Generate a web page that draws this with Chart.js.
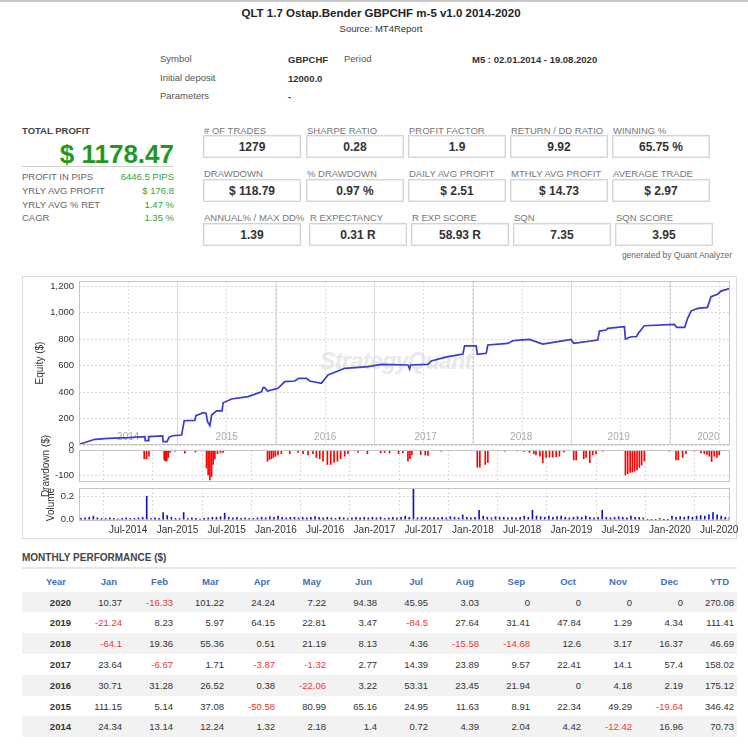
<!DOCTYPE html>
<html>
<head>
<meta charset="utf-8">
<title>QLT 1.7 Ostap.Bender GBPCHF m-5 v1.0 2014-2020</title>
<script src="https://cdn.jsdelivr.net/npm/chart.js@4.4.0/dist/chart.umd.min.js"></script>
<style>
  body { margin: 0; background: #fff; font-family: "Liberation Sans", Arial, sans-serif; color: #333; }
  #page { position: relative; width: 748px; height: 750px; overflow: hidden; }
  .t { position: absolute; white-space: nowrap; line-height: 12px; }
  .lbl { color: #666; font-size: 9.5px; }
  .box { position: absolute; width: 96px; height: 21px; border: 1px solid #d4d4d4; box-shadow: inset 0 0 0 1px #eee;
         text-align: center; font-weight: bold; font-size: 12px; line-height: 22px; color: #333; }
  .green { color: #33a533; font-size: 9.5px; }
  #panel { position: absolute; left: 22px; top: 276px; width: 713px; height: 261px; border: 1px solid #dcdcdc; }
  canvas { position: absolute; }
  #monthly { position: absolute; left: 22px; top: 571px; width: 715px; border-collapse: collapse; table-layout: fixed; font-size: 9.5px; }
  #monthly th { color: #3e72b8; text-align: right; padding: 0 8px 0 0; height: 20.7px; font-weight: bold; }
  #monthly td { text-align: right; padding: 0 3px 0 0; height: 20.8px; color: #333; }
  #monthly td.yr { font-weight: bold; }
  #monthly td.neg { color: #f03535; }
  #monthly tr.band td { background: #f2f2f2; }
</style>
</head>
<body>
<div id="page">
  <div style="position:absolute;left:0;top:0;width:748px;height:2px;background:#c8c8c8"></div>
  <div class="t" style="left:0;width:762px;text-align:center;top:7px;font-weight:bold;font-size:11.5px;color:#222">QLT 1.7 Ostap.Bender GBPCHF m-5 v1.0 2014-2020</div>
  <div class="t" style="left:0;width:762px;text-align:center;top:23px;font-size:9.5px;color:#333">Source: MT4Report</div>

  <div class="t" style="left:160px;top:53px;font-size:9.5px;color:#555">Symbol</div>
  <div class="t" style="left:288px;top:54px;font-size:9.5px;font-weight:bold">GBPCHF</div>
  <div class="t" style="left:344px;top:53px;font-size:9.5px;color:#555">Period</div>
  <div class="t" style="left:472px;top:54px;font-size:9.5px;font-weight:bold">M5 : 02.01.2014 - 19.08.2020</div>
  <div class="t" style="left:160px;top:72px;font-size:9.5px;color:#555">Initial deposit</div>
  <div class="t" style="left:288px;top:73px;font-size:9.5px;font-weight:bold">12000.0</div>
  <div class="t" style="left:160px;top:90px;font-size:9.5px;color:#555">Parameters</div>
  <div class="t" style="left:288px;top:91px;font-size:9.5px;font-weight:bold">-</div>

  <div class="t" style="left:22px;top:125px;font-size:9.5px;font-weight:bold;color:#444">TOTAL PROFIT</div>
  <div class="t" style="right:574px;top:141px;font-size:26px;line-height:26px;font-weight:bold;color:#1f9a1f">$ 1178.47</div>
  <div style="position:absolute;left:22px;top:166px;width:152px;height:1px;background:#cfcfcf"></div>
  <div class="t lbl" style="left:22px;top:171px">PROFIT IN PIPS</div>
  <div class="t green" style="right:574px;top:171px">6446.5 PIPS</div>
  <div class="t lbl" style="left:22px;top:185px">YRLY AVG PROFIT</div>
  <div class="t green" style="right:574px;top:185px">$ 176.8</div>
  <div class="t lbl" style="left:22px;top:199px">YRLY AVG % RET</div>
  <div class="t green" style="right:574px;top:199px">1.47 %</div>
  <div class="t lbl" style="left:22px;top:212px">CAGR</div>
  <div class="t green" style="right:574px;top:212px">1.35 %</div>

  <div id="stats"></div>
  <div class="t" style="right:16px;top:249px;font-size:8.5px;color:#666">generated by Quant Analyzer</div>

  <div id="panel"></div>
  <div class="t" style="left:320px;top:348px;font-size:23px;line-height:26px;font-style:italic;font-weight:bold;color:#e9e9e9;letter-spacing:-0.5px">StrategyQuant</div>
  <canvas id="eq" width="726" height="172" style="left:22px;top:276px"></canvas>
  <canvas id="dd" width="726" height="100" style="left:22px;top:420px"></canvas>
  <canvas id="vol" width="726" height="70" style="left:22px;top:470px"></canvas>

  <div class="t" style="left:22px;top:552px;font-size:10px;font-weight:bold;color:#444">MONTHLY PERFORMANCE ($)</div>
  <div style="position:absolute;left:22px;top:567px;width:715px;height:2px;background:#e6e6e6"></div>
  <table id="monthly"></table>
</div>

<script>
// ---- values ----
// x values are decimal years (2014.5 = 1 Jul 2014)
const xTicks = [2014.5, 2015, 2015.5, 2016, 2016.5, 2017, 2017.5, 2018, 2018.5, 2019, 2019.5, 2020, 2020.5];
const xTickLabels = ['Jul-2014', 'Jan-2015', 'Jul-2015', 'Jan-2016', 'Jul-2016', 'Jan-2017', 'Jul-2017',
                     'Jan-2018', 'Jul-2018', 'Jan-2019', 'Jul-2019', 'Jan-2020', 'Jul-2020'];
const yearLines = [2015, 2016, 2017, 2018, 2019, 2020];
const yearNames = ['2014', '2015', '2016', '2017', '2018', '2019', '2020'];
const yearNamePos = [2014.5, 2015.5, 2016.5, 2017.52, 2018.49, 2019.48, 2020.39];
const eqTicks = [0, 200, 400, 600, 800, 1000, 1200];
const ddTicks = [-100, 0];
const volTicks = [0, 0.2];

// equity curve
const eqDates = [
  2014.000, 2014.020, 2014.162, 2014.297, 2014.500, 2014.669, 2014.672, 2014.705, 2014.708, 2014.850, 2014.853, 2014.895, 2014.913, 2014.950,
  2015.042, 2015.068, 2015.176, 2015.187, 2015.261, 2015.290, 2015.305, 2015.329, 2015.346, 2015.397, 2015.453, 2015.463, 2015.549, 2015.717, 2015.853, 2015.870, 2015.886, 2015.914,
  2016.021, 2016.089, 2016.191, 2016.231, 2016.309, 2016.343, 2016.461, 2016.528, 2016.698, 2016.934,
  2017.070, 2017.340, 2017.357, 2017.365, 2017.543, 2017.577, 2017.745, 2017.898, 2017.915,
  2018.033, 2018.044, 2018.135, 2018.151, 2018.354, 2018.405, 2018.473, 2018.574, 2018.709, 2018.861, 2018.997,
  2019.023, 2019.267, 2019.284, 2019.352, 2019.368, 2019.538, 2019.548, 2019.605, 2019.660, 2019.679, 2019.740,
  2020.045, 2020.068, 2020.150, 2020.180, 2020.214, 2020.281, 2020.382, 2020.417, 2020.484, 2020.518, 2020.585, 2020.600
];
const eqValues = [
  0, 10, 43, 50, 55, 63, 33, 33, 63, 68, 25, 25, 58, 70,
  75, 183, 186, 221, 244, 240, 176, 146, 226, 257, 257, 319, 347, 365, 402, 433, 433, 408,
  428, 478, 483, 503, 503, 483, 465, 528, 579, 591,
  609, 604, 574, 604, 609, 634, 667, 687, 749,
  749, 685, 692, 755, 767, 787, 792, 797, 762, 780, 797,
  767, 792, 860, 868, 880, 893, 800, 817, 817, 843, 900,
  911, 888, 888, 956, 1011, 1031, 1039, 1119, 1137, 1162, 1177, 1178
];

// drawdown bars
const ddDates = [
  2014.10, 2014.30, 2014.55, 2014.662, 2014.686, 2014.710, 2014.865, 2014.879, 2014.892, 2014.906, 2014.923, 2014.974,
  2015.075, 2015.183, 2015.295, 2015.311, 2015.329, 2015.346, 2015.362, 2015.379, 2015.406, 2015.437, 2015.463, 2015.60, 2015.75, 2015.914, 2015.934, 2015.954, 2015.974, 2015.994,
  2016.021, 2016.055, 2016.140, 2016.224, 2016.275, 2016.326, 2016.376, 2016.410, 2016.444, 2016.478, 2016.522, 2016.556, 2016.590, 2016.624, 2016.657, 2016.698, 2016.731, 2016.80, 2016.833, 2016.928,
  2017.063, 2017.103, 2017.154, 2017.245, 2017.289, 2017.340, 2017.360, 2017.380, 2017.47, 2017.516, 2017.543, 2017.678, 2017.80,
  2018.044, 2018.070, 2018.125, 2018.151, 2018.25, 2018.321, 2018.45, 2018.52, 2018.574, 2018.618, 2018.64, 2018.68, 2018.709, 2018.743, 2018.777, 2018.810, 2018.845, 2018.878, 2018.922,
  2019.023, 2019.048, 2019.125, 2019.149, 2019.186, 2019.216, 2019.250, 2019.318, 2019.43, 2019.548, 2019.571, 2019.596, 2019.619, 2019.642, 2019.666, 2019.690, 2019.713, 2019.740, 2019.85, 2019.95, 2019.994,
  2020.062, 2020.085, 2020.129, 2020.163, 2020.25, 2020.315, 2020.349, 2020.376, 2020.400, 2020.423, 2020.450, 2020.477, 2020.501
];
const ddValues = [
  -2, -2, -3, -35, -35, -25, -40, -45, -43, -30, -10, -5,
  -13, -8, -72, -100, -120, -106, -58, -36, -15, -10, -10, -3, -3, -45, -38, -35, -30, -25,
  -20, -15, -15, -10, -15, -20, -15, -30, -35, -45, -58, -58, -50, -45, -35, -25, -15, -4, -10, -15,
  -12, -10, -12, -15, -12, -45, -35, -20, -18, -20, -22, -5, -3,
  -69, -69, -58, -50, -3, -5, -4, -6, -10, -15, -20, -25, -51, -30, -28, -28, -27, -25, -8,
  -40, -40, -35, -30, -51, -20, -15, -5, -3, -100, -95, -90, -88, -85, -80, -70, -60, -45, -2, -3, -5,
  -40, -40, -30, -15, -4, -12, -15, -18, -25, -46, -25, -30, -20
];

// volume (lots), one bar per half month
const volYears = [2014, 2015, 2016, 2017, 2018, 2019, 2020];
const vol2014 = [0.01, 0.015, 0.02, 0.03, 0.015, 0.01, 0.01, 0.015, 0.01, 0.005, 0.01, 0.015, 0.01, 0.01, 0.015, 0.02, 0.2, 0.01, 0.015, 0.01, 0.06, 0.035, 0.02, 0.01];
const vol2015 = [0.01, 0.06, 0.01, 0.015, 0.01, 0.005, 0.01, 0.015, 0.02, 0.02, 0.025, 0.055, 0.02, 0.015, 0.02, 0.01, 0.015, 0.01, 0.01, 0.015, 0.02, 0.015, 0.025, 0.02];
const vol2016 = [0.03, 0.02, 0.015, 0.02, 0.02, 0.015, 0.02, 0.015, 0.02, 0.025, 0.02, 0.015, 0.02, 0.015, 0.01, 0.02, 0.015, 0.01, 0.015, 0.02, 0.015, 0.02, 0.015, 0.02];
const vol2017 = [0.015, 0.02, 0.01, 0.015, 0.02, 0.015, 0.02, 0.03, 0.02, 0.27, 0.015, 0.02, 0.02, 0.015, 0.02, 0.015, 0.02, 0.015, 0.025, 0.02, 0.015, 0.04, 0.02, 0.015];
const vol2018 = [0.02, 0.08, 0.03, 0.02, 0.015, 0.025, 0.02, 0.02, 0.015, 0.02, 0.015, 0.02, 0.03, 0.02, 0.08, 0.03, 0.025, 0.02, 0.03, 0.02, 0.025, 0.03, 0.02, 0.015];
const vol2019 = [0.02, 0.025, 0.02, 0.03, 0.02, 0.015, 0.02, 0.08, 0.02, 0.015, 0.02, 0.025, 0.02, 0.015, 0.03, 0.02, 0.02, 0.015, 0, 0, 0, 0.01, 0, 0];
const vol2020 = [0.03, 0.02, 0.025, 0.02, 0.03, 0.02, 0.03, 0.035, 0.03, 0.04, 0.06, 0.04, 0.03, 0.02, 0.02];

// monthly performance table
const months = ['Jan', 'Feb', 'Mar', 'Apr', 'May', 'Jun', 'Jul', 'Aug', 'Sep', 'Oct', 'Nov', 'Dec'];
const tableYears = [2020, 2019, 2018, 2017, 2016, 2015, 2014];
const m2020 = [10.37, -16.33, 101.22, 24.24, 7.22, 94.38, 45.95, 3.03, 0, 0, 0, 0, 270.08];
const m2019 = [-21.24, 8.23, 5.97, 64.15, 22.81, 3.47, -84.5, 27.64, 31.41, 47.84, 1.29, 4.34, 111.41];
const m2018 = [-64.1, 19.36, 55.36, 0.51, 21.19, 8.13, 4.36, -15.58, -14.68, 12.6, 3.17, 16.37, 46.69];
const m2017 = [23.64, -6.67, 1.71, -3.87, -1.32, 2.77, 14.39, 23.89, 9.57, 22.41, 14.1, 57.4, 158.02];
const m2016 = [30.71, 31.28, 26.52, 0.38, -22.06, 3.22, 53.31, 23.45, 21.94, 0, 4.18, 2.19, 175.12];
const m2015 = [111.15, 5.14, 37.08, -50.58, 80.99, 65.16, 24.95, 11.63, 8.91, 22.34, 49.29, -19.64, 346.42];
const m2014 = [24.34, 13.14, 12.24, 1.32, 2.18, 1.4, 0.72, 4.39, 2.04, 4.42, -12.42, 16.96, 70.73];

// ---- stat boxes ----
const statRows = [
  { label: 130.7, top: 135, xs: [203, 306, 408, 510, 612],
    items: [['# OF TRADES', '1279'], ['SHARPE RATIO', '0.28'], ['PROFIT FACTOR', '1.9'], ['RETURN / DD RATIO', '9.92'], ['WINNING %', '65.75 %']] },
  { label: 174.3, top: 179, xs: [203, 306, 408, 510, 612],
    items: [['DRAWDOWN', '$ 118.79'], ['% DRAWDOWN', '0.97 %'], ['DAILY AVG PROFIT', '$ 2.51'], ['MTHLY AVG PROFIT', '$ 14.73'], ['AVERAGE TRADE', '$ 2.97']] },
  { label: 217.7, top: 222.5, xs: [203, 309, 411, 513, 615],
    items: [['ANNUAL% / MAX DD%', '1.39'], ['R EXPECTANCY', '0.31 R'], ['R EXP SCORE', '58.93 R'], ['SQN', '7.35'], ['SQN SCORE', '3.95']] }
];
let html = '';
statRows.forEach(r => {
  r.items.forEach((it, i) => {
    html += '<div class="t" style="left:' + (r.xs[i] + 1) + 'px;top:' + (r.label - 6) + 'px;font-size:9.5px;color:#777">' + it[0] + '</div>';
    html += '<div class="box" style="left:' + r.xs[i] + 'px;top:' + r.top + 'px">' + it[1] + '</div>';
  });
});
document.getElementById('stats').innerHTML = html;

// ---- monthly table ----
const rowsByYear = { 2020: m2020, 2019: m2019, 2018: m2018, 2017: m2017, 2016: m2016, 2015: m2015, 2014: m2014 };
let tbl = '<colgroup><col style="width:52px">' + '<col style="width:51px">'.repeat(13) + '</colgroup>';
tbl += '<tr><th>Year</th>' + months.map(m => '<th>' + m + '</th>').join('') + '<th>YTD</th></tr>';
tableYears.forEach((y, i) => {
  tbl += '<tr class="' + (i % 2 === 0 ? 'band' : '') + '"><td class="yr">' + y + '</td>' +
    rowsByYear[y].map(v => '<td class="' + (v < 0 ? 'neg' : '') + '">' + v + '</td>').join('') + '</tr>';
});
document.getElementById('monthly').innerHTML = tbl;

// ---- charts ----
Chart.defaults.font.family = '"Liberation Sans", Arial, sans-serif';
Chart.defaults.color = '#333';
Chart.defaults.animation = false;

const X_MIN = 2014, X_MAX = 2020.61;
const AXIS_W = 57;
const PAD_R = 18;

const framePlugin = {
  id: 'frame',
  afterDatasetsDraw(chart) {
    const a = chart.chartArea, ctx = chart.ctx;
    ctx.save();
    ctx.strokeStyle = '#c4c4c4';
    ctx.lineWidth = 1;
    ctx.strokeRect(Math.round(a.left) + 0.5, Math.round(a.top) + 0.5, Math.round(a.width) - 1, Math.round(a.height) - 1);
    ctx.restore();
  }
};

const yearPlugin = {
  id: 'years',
  beforeDatasetsDraw(chart) {
    const x = chart.scales.x, a = chart.chartArea, ctx = chart.ctx;
    ctx.save();
    ctx.strokeStyle = '#d8d8d8';
    ctx.lineWidth = 1;
    yearLines.forEach(v => {
      const px = Math.round(x.getPixelForValue(v)) + 0.5;
      ctx.beginPath(); ctx.moveTo(px, a.top); ctx.lineTo(px, a.bottom); ctx.stroke();
    });
    ctx.fillStyle = '#aaa';
    ctx.font = '10px "Liberation Sans", Arial, sans-serif';
    ctx.textAlign = 'center';
    ctx.textBaseline = 'middle';
    yearNames.forEach((t, i) => ctx.fillText(t, x.getPixelForValue(yearNamePos[i]), a.bottom - 8));
    ctx.restore();
  }
};

function xAxis(showLabels) {
  return {
    type: 'linear', min: X_MIN, max: X_MAX, offset: false,
    afterBuildTicks: s => { s.ticks = xTicks.map(v => ({ value: v })); },
    afterFit: s => { s.height = showLabels ? 17 : 0; s.paddingLeft = 0; s.paddingRight = 0; },
    grid: { color: '#dadada', drawTicks: false },
    border: { display: false, dash: [2, 2] },
    ticks: {
      display: showLabels, autoSkip: false, maxRotation: 0, padding: 3,
      font: { size: 10 }, color: '#333',
      callback: v => xTickLabels[xTicks.indexOf(v)]
    }
  };
}

function yAxis(min, max, ticks, title, titlePad, fmt) {
  return {
    min: min, max: max,
    afterBuildTicks: s => { s.ticks = ticks.map(v => ({ value: v })); },
    // fixed width so the three plots line up; no room kept for label overhang
    afterFit: s => { s.width = AXIS_W; s.paddingTop = 0; s.paddingBottom = 0; },
    grid: { color: '#dadada', drawTicks: false },
    border: { display: false, dash: [2, 2] },
    ticks: { padding: 5, font: { size: 9.5 }, color: '#333', callback: fmt },
    title: { display: true, text: title, font: { size: 10 }, color: '#333', padding: { top: titlePad, bottom: 0 } }
  };
}

new Chart(document.getElementById('eq'), {
  type: 'line',
  data: {
    datasets: [{
      data: eqDates.map((d, i) => ({ x: d, y: eqValues[i] })),
      borderColor: '#3c3cc8', borderWidth: 1.7, pointRadius: 0, tension: 0, fill: false
    }]
  },
  options: {
    responsive: false,
    layout: { padding: { top: 5, right: PAD_R, bottom: 3, left: 0 } },
    plugins: { legend: { display: false }, tooltip: { enabled: false } },
    scales: {
      x: xAxis(false),
      y: yAxis(0, 1238, eqTicks, 'Equity ($)', 12, v => v.toLocaleString('en-US'))
    }
  },
  plugins: [yearPlugin, framePlugin]
});

new Chart(document.getElementById('dd'), {
  type: 'bar',
  data: {
    datasets: [{
      data: ddDates.map((d, i) => ({ x: d, y: ddValues[i] })),
      backgroundColor: '#ff0000', barThickness: 1
    }]
  },
  options: {
    responsive: false,
    layout: { padding: { top: 30, right: PAD_R, bottom: 38, left: 0 } },
    plugins: { legend: { display: false }, tooltip: { enabled: false } },
    scales: {
      x: xAxis(false),
      y: yAxis(-128, 0, ddTicks, 'Drawdown ($)', 18, v => String(v))
    }
  },
  plugins: [framePlugin]
});

const volData = [];
[vol2014, vol2015, vol2016, vol2017, vol2018, vol2019, vol2020].forEach((arr, k) => {
  arr.forEach((v, i) => volData.push({ x: volYears[k] + (i + 0.5) / 24, y: v }));
});

new Chart(document.getElementById('vol'), {
  type: 'bar',
  data: {
    datasets: [{ data: volData, backgroundColor: '#1414c0', barThickness: 1 }]
  },
  options: {
    responsive: false,
    layout: { padding: { top: 18, right: PAD_R, bottom: 2, left: 0 } },
    plugins: { legend: { display: false }, tooltip: { enabled: false } },
    scales: {
      x: xAxis(true),
      y: yAxis(-0.012, 0.27, volTicks, 'Volume', 23, v => v.toFixed(1))
    }
  },
  plugins: [framePlugin]
});
</script>
</body>
</html>
